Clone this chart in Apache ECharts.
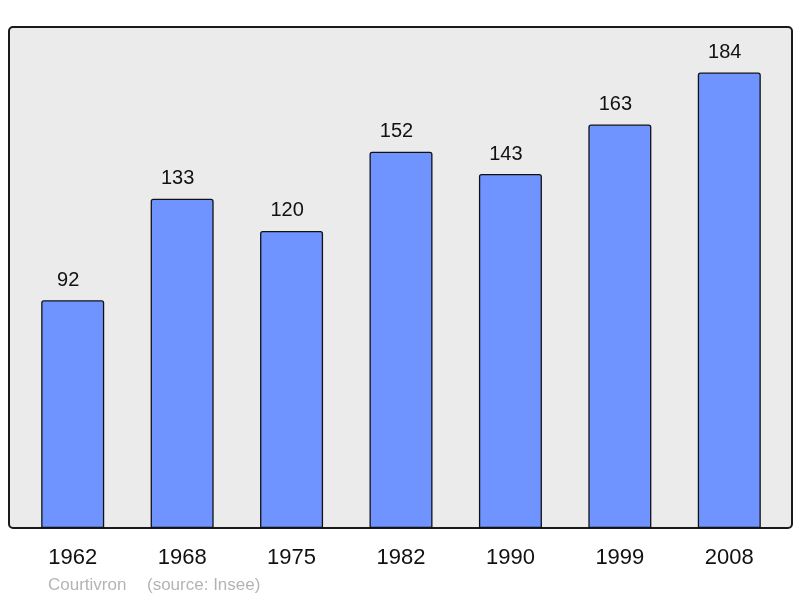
<!DOCTYPE html>
<html><head><meta charset="utf-8">
<script src="https://cdn.jsdelivr.net/npm/echarts@6/dist/echarts.min.js"></script>
<style>html,body{margin:0;padding:0;background:#fff}#c{width:800px;height:598px}</style>
</head><body><div id="c"></div>
<script>
const years = ['1962','1968','1975','1982','1990','1999','2008'];
const population = [92,133,120,152,143,163,184];
const commune = 'Courtivron';
const source = '(source: Insee)';

const FONT = '"Liberation Sans", Arial, sans-serif';
const chart = echarts.init(document.getElementById('c'), null, {renderer:'canvas'});
chart.setOption({
  animation:false,
  backgroundColor:'#ffffff',
  graphic:[
    {type:'rect', z:-10, shape:{x:9,y:27,width:783,height:501,r:4},
     style:{fill:'#ebebeb', stroke:'#1a1a1a', lineWidth:2}},
    {type:'text', left:48, top:577, style:{text:commune, fill:'#b4b4b4', font:'17px '+FONT}},
    {type:'text', left:147, top:577, style:{text:source, fill:'#b4b4b4', font:'17px '+FONT}}
  ],
  grid:{left:18, right:16, top:27, bottom:70, containLabel:false},
  xAxis:{type:'category', data:years, axisLine:{show:false}, axisTick:{show:false},
    axisLabel:{color:'#111', fontSize:22, fontFamily:FONT, margin:19}},
  yAxis:{type:'value', min:0, max:202.4, show:false, splitLine:{show:false}},
  series:[{type:'bar', data:population, barWidth:63,
    itemStyle:{color:'#7094ff', borderColor:'#111', borderWidth:1.3, borderRadius:[2,2,0,0]},
    label:{show:true, position:'top', distance:10, offset:[-4.5,0], color:'#111', fontSize:20, fontFamily:FONT}
  }]
});
</script></body></html>
